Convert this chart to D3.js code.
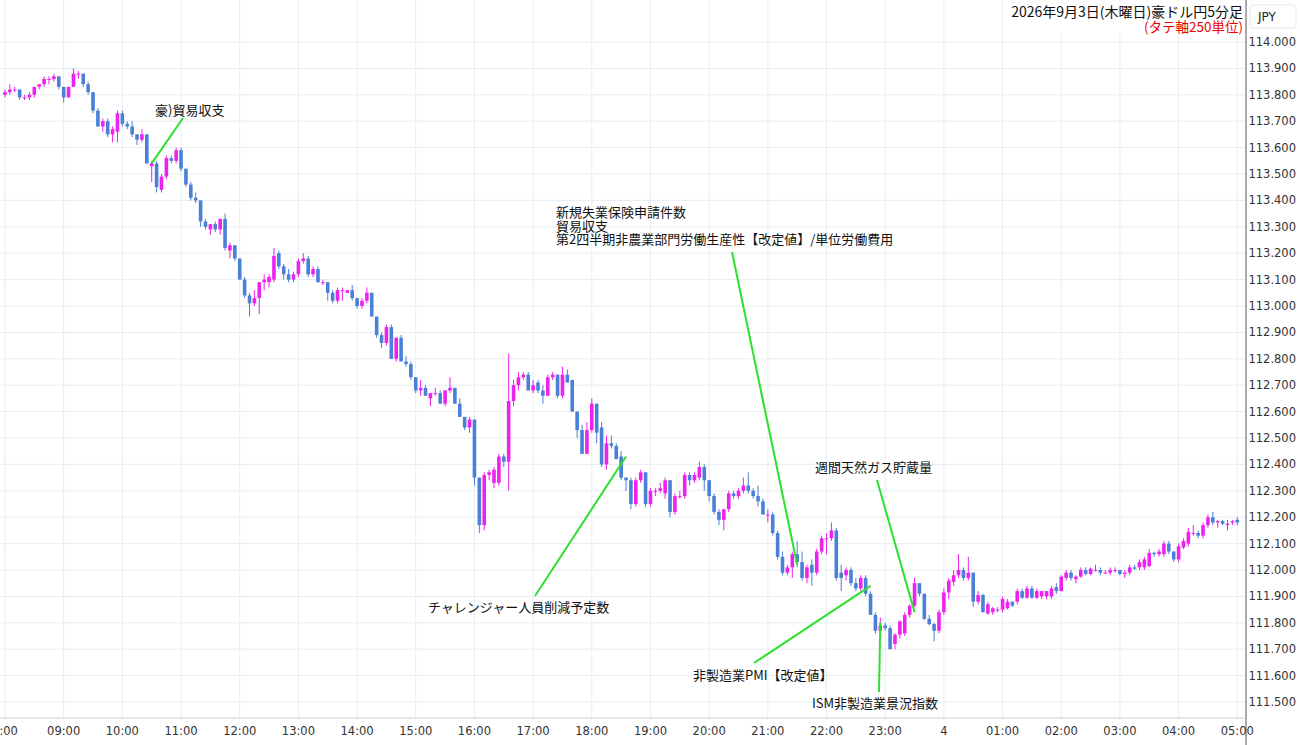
<!DOCTYPE html>
<html><head><meta charset="utf-8">
<script src="https://cdn.jsdelivr.net/npm/d3@7"></script>
<style>body{margin:0;background:#fff;font-family:"Noto Sans CJK JP","Noto Sans",sans-serif}</style>
</head><body><svg id="c" width="1300" height="745"></svg>
<script>
const startTime = "2026-09-03T08:00";
const opens=[113.80,113.81,113.82,113.82,113.79,113.79,113.80,113.83,113.84,113.86,113.86,113.87,
113.83,113.79,113.83,113.88,113.88,113.84,113.81,113.74,113.68,113.70,113.65,113.66,
113.73,113.69,113.68,113.65,113.63,113.65,113.53,113.54,113.44,113.49,113.56,113.55,
113.59,113.52,113.46,113.41,113.40,113.32,113.29,113.31,113.29,113.33,113.21,113.23,
113.18,113.10,113.04,113.01,113.03,113.09,113.09,113.10,113.20,113.15,113.12,113.10,
113.12,113.17,113.18,113.12,113.14,113.09,113.09,113.05,113.02,113.06,113.05,113.06,
113.03,113.00,113.02,113.05,112.96,112.89,112.86,112.92,112.80,112.88,112.79,112.78,
112.73,112.68,112.69,112.65,112.67,112.67,112.63,112.68,112.69,112.63,112.58,112.54,
112.57,112.35,112.17,112.36,112.33,112.33,112.43,112.41,112.64,112.70,112.73,112.74,
112.68,112.71,112.68,112.66,112.73,112.74,112.66,112.74,112.72,112.60,112.53,112.44,
112.53,112.63,112.54,112.40,112.48,112.47,112.43,112.35,112.34,112.25,112.34,112.37,
112.25,112.30,112.30,112.29,112.34,112.22,112.28,112.28,112.36,112.34,112.35,112.39,
112.34,112.28,112.22,112.19,112.23,112.29,112.28,112.30,112.32,112.30,112.28,112.26,
112.21,112.21,112.14,112.05,111.99,112.01,112.06,112.03,111.97,112.02,111.99,112.07,
112.12,112.12,112.15,111.99,111.98,112.00,111.95,111.93,111.97,111.91,111.83,111.77,
111.79,111.78,111.72,111.755,111.76,111.83,111.865,111.95,111.91,111.815,111.795,111.77,
111.84,111.915,111.955,111.98,112.00,111.97,111.99,111.88,111.905,111.835,111.84,111.85,
111.85,111.855,111.88,111.88,111.92,111.895,111.93,111.895,111.90,111.90,111.90,111.935,
111.92,111.97,111.99,111.965,111.975,112.00,111.985,112.00,112.00,111.99,111.99,112.00,
112.00,111.985,111.99,112.01,112.01,112.01,112.015,112.065,112.06,112.06,112.10,112.07,
112.04,112.085,112.10,112.14,112.14,112.13,112.17,112.20,112.18,112.185,112.17,112.18,
112.19];
const highs=[113.82,113.84,113.83,113.82,113.80,113.81,113.83,113.84,113.87,113.87,113.88,113.87,
113.83,113.83,113.90,113.89,113.88,113.85,113.81,113.75,113.71,113.71,113.68,113.74,
113.74,113.70,113.70,113.65,113.67,113.65,113.55,113.55,113.50,113.57,113.57,113.60,
113.60,113.52,113.47,113.43,113.40,113.33,113.31,113.32,113.33,113.35,113.24,113.23,
113.18,113.11,113.05,113.06,113.09,113.12,113.12,113.22,113.21,113.16,113.14,113.13,
113.18,113.20,113.19,113.15,113.15,113.10,113.09,113.06,113.07,113.07,113.06,113.08,
113.03,113.03,113.07,113.05,112.96,112.90,112.93,112.93,112.88,112.89,112.81,112.79,
112.73,112.72,112.70,112.67,112.69,112.68,112.68,112.73,112.69,112.65,112.58,112.58,
112.57,112.35,112.37,112.38,112.39,112.44,112.44,112.82,112.72,112.75,112.75,112.75,
112.72,112.72,112.70,112.74,112.75,112.74,112.77,112.76,112.72,112.60,112.55,112.56,
112.65,112.63,112.56,112.51,112.51,112.48,112.45,112.35,112.35,112.35,112.38,112.37,
112.31,112.31,112.33,112.35,112.34,112.29,112.30,112.37,112.37,112.37,112.41,112.40,
112.34,112.29,112.23,112.23,112.30,112.30,112.31,112.35,112.37,112.31,112.32,112.27,
112.23,112.22,112.15,112.07,112.02,112.07,112.11,112.07,112.02,112.04,112.08,112.13,
112.14,112.18,112.16,112.02,112.01,112.01,111.97,111.98,111.98,111.92,111.84,111.82,
111.80,111.79,111.76,111.81,111.84,111.87,111.97,111.95,111.91,111.83,111.80,111.85,
111.93,111.97,112.00,112.06,112.01,112.05,111.99,111.92,111.91,111.88,111.86,111.86,
111.90,111.89,111.88,111.93,111.93,111.94,111.94,111.93,111.92,111.92,111.94,111.95,
111.98,112.00,112.00,111.98,112.01,112.01,112.01,112.02,112.01,112.00,112.01,112.01,
112.00,112.00,112.02,112.02,112.04,112.05,112.08,112.07,112.08,112.11,112.11,112.07,
112.10,112.12,112.16,112.17,112.15,112.18,112.21,112.22,112.19,112.19,112.19,112.19,
112.20];
const lows=[113.79,113.80,113.81,113.78,113.78,113.78,113.79,113.82,113.83,113.84,113.85,113.82,
113.77,113.79,113.83,113.86,113.83,113.80,113.73,113.68,113.66,113.64,113.62,113.62,
113.68,113.67,113.64,113.61,113.62,113.54,113.47,113.43,113.43,113.48,113.54,113.54,
113.51,113.45,113.40,113.39,113.30,113.29,113.27,113.28,113.27,113.21,113.18,113.17,
113.10,113.03,112.96,113.00,112.97,113.06,113.07,113.09,113.14,113.10,113.09,113.09,
113.11,113.16,113.11,113.11,113.09,113.08,113.02,113.01,113.01,113.02,113.05,113.02,
112.99,112.99,113.01,112.96,112.88,112.84,112.85,112.80,112.79,112.79,112.77,112.72,
112.67,112.66,112.66,112.62,112.66,112.63,112.62,112.67,112.63,112.58,112.53,112.52,
112.32,112.14,112.15,112.34,112.31,112.32,112.39,112.30,112.62,112.68,112.72,112.68,
112.67,112.67,112.63,112.66,112.72,112.65,112.65,112.71,112.60,112.50,112.44,112.44,
112.52,112.48,112.39,112.38,112.46,112.42,112.34,112.30,112.23,112.24,112.33,112.24,
112.24,112.28,112.29,112.27,112.20,112.21,112.27,112.27,112.32,112.33,112.34,112.30,
112.26,112.21,112.17,112.15,112.22,112.27,112.27,112.29,112.29,112.27,112.24,112.21,
112.18,112.13,112.04,111.98,111.98,111.97,112.01,111.96,111.95,111.94,111.98,112.06,
112.06,112.11,111.96,111.92,111.96,111.94,111.92,111.92,111.90,111.83,111.76,111.76,
111.77,111.70,111.70,111.74,111.75,111.82,111.86,111.90,111.81,111.79,111.73,111.76,
111.83,111.89,111.94,111.97,111.96,111.96,111.86,111.87,111.84,111.83,111.83,111.84,
111.84,111.85,111.86,111.87,111.89,111.89,111.89,111.89,111.89,111.89,111.89,111.91,
111.92,111.96,111.96,111.95,111.97,111.98,111.98,111.995,111.98,111.985,111.98,111.99,
111.98,111.97,111.98,112.00,112.00,112.00,112.01,112.05,112.05,112.05,112.06,112.03,
112.03,112.08,112.09,112.13,112.12,112.12,112.16,112.17,112.16,112.17,112.15,112.17,
112.17];
const closes=[113.81,113.82,113.82,113.79,113.79,113.80,113.83,113.84,113.86,113.86,113.87,113.83,
113.79,113.83,113.88,113.88,113.84,113.81,113.74,113.68,113.70,113.65,113.67,113.73,
113.69,113.68,113.65,113.63,113.65,113.54,113.54,113.45,113.49,113.56,113.55,113.59,
113.52,113.46,113.41,113.40,113.32,113.30,113.31,113.29,113.33,113.22,113.23,113.18,
113.10,113.04,113.01,113.03,113.09,113.10,113.11,113.19,113.15,113.12,113.10,113.12,
113.17,113.18,113.12,113.14,113.09,113.09,113.05,113.02,113.06,113.06,113.06,113.03,
113.00,113.02,113.05,112.96,112.89,112.86,112.92,112.80,112.88,112.79,112.78,112.73,
112.68,112.69,112.66,112.67,112.67,112.63,112.68,112.69,112.63,112.58,112.54,112.57,
112.35,112.17,112.36,112.37,112.38,112.43,112.41,112.64,112.70,112.73,112.74,112.68,
112.70,112.68,112.66,112.73,112.74,112.66,112.74,112.71,112.60,112.53,112.44,112.53,
112.63,112.52,112.40,112.48,112.47,112.42,112.35,112.34,112.25,112.34,112.37,112.25,
112.30,112.30,112.31,112.34,112.22,112.28,112.28,112.36,112.34,112.36,112.39,112.34,
112.28,112.22,112.19,112.23,112.29,112.28,112.30,112.32,112.30,112.28,112.26,112.21,
112.21,112.14,112.05,111.99,112.01,112.06,112.03,111.97,112.01,111.99,112.07,112.12,
112.12,112.15,111.97,111.97,112.00,111.95,111.93,111.97,111.91,111.83,111.77,111.79,
111.78,111.70,111.755,111.805,111.83,111.865,111.95,111.91,111.815,111.795,111.77,111.84,
111.915,111.96,111.98,112.00,111.97,111.99,111.88,111.905,111.84,111.87,111.855,111.85,
111.89,111.88,111.865,111.92,111.895,111.93,111.895,111.92,111.92,111.92,111.93,111.92,
111.975,111.99,111.97,111.975,112.00,111.985,112.005,112.00,111.99,111.99,112.00,112.00,
111.985,111.99,112.01,112.005,112.03,112.04,112.065,112.06,112.07,112.10,112.07,112.04,
112.09,112.11,112.145,112.14,112.13,112.17,112.20,112.18,112.185,112.175,112.175,112.185,
112.18];
const hourLabels=["8:00","09:00","10:00","11:00","12:00","13:00","14:00","15:00","16:00","17:00","18:00","19:00","20:00","21:00","22:00","23:00","4","01:00","02:00","03:00","04:00","05:00"];
const titleText="2026年9月3日(木曜日)豪ドル円5分足";
const subText="(タテ軸250単位)";
const annotations=[
 {lines:["豪)貿易収支"],idx:30,price:113.54,tx:155,ty:115,anchor:[183,118]},
 {lines:["新規失業保険申請件数","貿易収支","第2四半期非農業部門労働生産性【改定値】/単位労働費用"],idx:162,price:112.02,tx:556,ty:217,anchor:[732,252]},
 {lines:["チャレンジャー人員削減予定数"],idx:127,price:112.43,tx:428,ty:612,anchor:[535,596]},
 {lines:["週間天然ガス貯蔵量"],idx:186,price:111.84,tx:815,ty:472,anchor:[877,480]},
 {lines:["非製造業PMI【改定値】"],idx:177,price:111.94,tx:693,ty:680,anchor:[754,663]},
 {lines:["ISM非製造業景況指数"],idx:179,price:111.80,tx:812,ty:708,anchor:[879,692]}
];

const svg=d3.select("#c");
const W=1246, plotBottom=718;
const t0=new Date(startTime);
const n=closes.length;
const times=closes.map((_,i)=>d3.timeMinute.offset(t0,5*i));
const x=d3.scaleTime().domain([t0,d3.timeMinute.offset(t0,5*(n-1))]).range([5,5+4.89*(n-1)]);
const y=d3.scaleLinear().domain([111.5,114.0]).range([702,42]);

const hours=d3.range(hourLabels.length).map(i=>d3.timeHour.offset(t0,i));
svg.append("g").selectAll("line").data(hours).join("line")
 .attr("x1",d=>x(d)).attr("x2",d=>x(d)).attr("y1",0).attr("y2",plotBottom).attr("stroke","#e6edf3");
const yt=d3.range(0,26).map(i=>+(111.5+i*0.1).toFixed(1));
svg.append("g").selectAll("line").data(yt).join("line")
 .attr("x1",0).attr("x2",W).attr("y1",d=>y(d)).attr("y2",d=>y(d)).attr("stroke","#e6edf3");

const up="#ee22ee", dn="#4a80d8";
const g=svg.append("g");
for(let i=0;i<n;i++){
 const o=opens[i], c=closes[i], col=c>=o?up:dn, cx=x(times[i]);
 g.append("line").attr("x1",cx).attr("x2",cx).attr("y1",y(highs[i])).attr("y2",y(lows[i])).attr("stroke",col).attr("stroke-width",1);
 const y1=y(Math.max(o,c)), y2=y(Math.min(o,c));
 g.append("rect").attr("x",cx-1.8).attr("width",3.6).attr("y",y1).attr("height",Math.max(1,y2-y1)).attr("fill",col);
}

svg.append("line").attr("x1",W).attr("x2",W).attr("y1",0).attr("y2",745).attr("stroke","#555");
svg.append("line").attr("x1",0).attr("x2",W).attr("y1",plotBottom).attr("y2",plotBottom).attr("stroke","#ccc");
svg.append("g").selectAll("text").data(yt).join("text")
 .attr("x",1296).attr("y",d=>y(d)+4).attr("text-anchor","end").attr("font-size",11.5).attr("fill","#333")
 .attr("font-family","DejaVu Sans").text(d=>d.toFixed(3));
svg.append("g").selectAll("text").data(hours).join("text")
 .attr("x",d=>x(d)).attr("y",735).attr("text-anchor","middle").attr("font-size",11.5).attr("fill","#333")
 .attr("font-family","DejaVu Sans").text((d,i)=>hourLabels[i]);
svg.append("rect").attr("x",1250).attr("y",5).attr("width",46).attr("height",23).attr("rx",3).attr("fill","#fff").attr("stroke","#e8e8e8");
svg.append("text").attr("x",1258).attr("y",21).attr("font-size",12).attr("font-family","DejaVu Sans").attr("fill","#222").text("JPY");

svg.append("rect").attr("x",1005).attr("y",2).attr("width",240).attr("height",32).attr("fill","#fff");
svg.append("text").attr("x",1243).attr("y",17).attr("text-anchor","end").attr("font-size",14).attr("fill","#111").text(titleText);
svg.append("text").attr("x",1243).attr("y",32).attr("text-anchor","end").attr("font-size",13.5).attr("fill","#e00").text(subText);

const ag=svg.append("g");
annotations.forEach(a=>{
 ag.append("line").attr("x1",a.anchor[0]).attr("y1",a.anchor[1]).attr("x2",x(times[a.idx])).attr("y2",y(a.price))
   .attr("stroke","#2ee02e").attr("stroke-width",2);
 a.lines.forEach((l,k)=>ag.append("text").attr("x",a.tx).attr("y",a.ty+k*13.5).attr("font-size",13).attr("fill","#111").text(l));
});
</script></body></html>
